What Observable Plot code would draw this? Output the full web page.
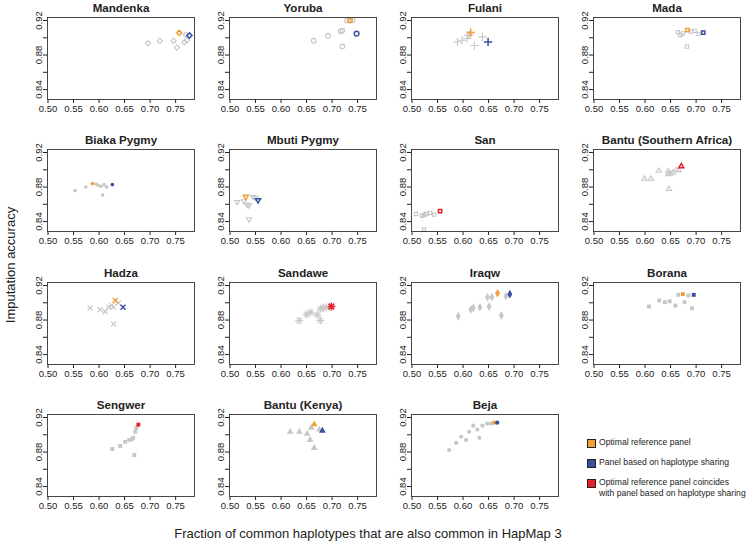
<!DOCTYPE html>
<html><head><meta charset="utf-8">
<script src="https://cdn.jsdelivr.net/npm/d3@7"></script>
<script src="https://cdn.jsdelivr.net/npm/@observablehq/plot@0.6"></script>
<style>
body{margin:0;background:#fff;font-family:"Liberation Sans",Arial,sans-serif;}
#wrap{position:relative;width:750px;height:547px;overflow:hidden;background:#fff;}
.panel{position:absolute;}
.lab{position:absolute;color:#222;white-space:nowrap;}
.sw{position:absolute;width:7px;height:7px;border:1px solid #222;}
</style></head><body><div id="wrap"></div>
<script>
const panels = ["Mandenka","Yoruba","Fulani","Mada","Biaka Pygmy","Mbuti Pygmy","San","Bantu (Southern Africa)","Hadza","Sandawe","Iraqw","Borana","Sengwer","Bantu (Kenya)","Beja"];
const grayX = [
 [0.696,0.719,0.746,0.7525,0.767,0.772,0.770],
 [0.664,0.692,0.717,0.720,0.720,0.729,0.740],
 [0.589,0.598,0.608,0.610,0.613,0.622,0.638],
 [0.6645,0.669,0.674,0.682,0.690,0.697,0.705],
 [0.553,0.574,0.594,0.598,0.6035,0.610,0.607,0.615],
 [0.514,0.527,0.5335,0.537,0.537,0.545,0.550],
 [0.508,0.5195,0.5235,0.528,0.535,0.5435,0.5235],
 [0.599,0.6116,0.627,0.645,0.6455,0.650,0.655,0.661,0.666,0.647],
 [0.5825,0.602,0.612,0.6186,0.6245,0.628,0.6284,0.638],
 [0.6356,0.650,0.658,0.671,0.677,0.678,0.682,0.689],
 [0.5906,0.6154,0.620,0.633,0.651,0.648,0.6565,0.675,0.684],
 [0.6077,0.6277,0.6387,0.6483,0.6593,0.665,0.6774,0.685,0.692],
 [0.626,0.6416,0.651,0.659,0.667,0.671,0.673,0.669,0.664],
 [0.618,0.636,0.651,0.659,0.665,0.675,0.657],
 [0.5727,0.5865,0.5963,0.606,0.612,0.620,0.628,0.632,0.638,0.6475,0.655]
];
const grayY = [
 [0.8936,0.8964,0.8964,0.8886,0.8948,0.897,0.9035],
 [0.8967,0.9025,0.9075,0.9083,0.890,0.920,0.920],
 [0.8952,0.8971,0.8991,0.903,0.9033,0.891,0.901],
 [0.9064,0.9033,0.905,0.8897,0.9072,0.908,0.9045],
 [0.876,0.880,0.8836,0.882,0.8808,0.8828,0.8708,0.880],
 [0.8628,0.8636,0.8596,0.8588,0.8428,0.8688,0.8676],
 [0.8488,0.8468,0.8476,0.8488,0.850,0.848,0.8308],
 [0.8896,0.8896,0.8988,0.898,0.8948,0.8956,0.8968,0.8996,0.8996,0.8776],
 [0.8937,0.8922,0.8899,0.8949,0.8968,0.8949,0.8756,0.900],
 [0.8794,0.8864,0.8891,0.886,0.8794,0.893,0.8941,0.8949],
 [0.8845,0.8922,0.8941,0.8949,0.8957,0.9065,0.9065,0.8852,0.9076],
 [0.8957,0.9026,0.9007,0.9018,0.8968,0.9092,0.9007,0.9084,0.8937],
 [0.8835,0.887,0.8918,0.894,0.8965,0.9035,0.908,0.8765,0.8945],
 [0.9035,0.9035,0.901,0.908,0.8847,0.906,0.894],
 [0.8824,0.8906,0.8977,0.894,0.9035,0.9106,0.906,0.8965,0.9106,0.913,0.913]
];
// optimal reference panel (orange)
const optimalX = [0.757,0.735,0.615,0.683,0.587,0.531,null,null,0.6317,null,0.6676,0.6741,null,0.665,0.661];
const optimalY = [0.9057,0.920,0.906,0.9088,0.884,0.8688,null,null,0.9026,null,0.9111,0.910,null,0.912,0.914];
// panel based on haplotype sharing (blue)
const sharingX = [0.777,0.748,0.649,0.714,0.626,0.555,null,null,0.647,null,0.6917,0.6954,null,0.681,0.667];
const sharingY = [0.9026,0.9048,0.8952,0.906,0.8828,0.8648,null,null,0.8949,null,0.910,0.9092,null,0.9047,0.914];
// coinciding (red)
const coincideX = [null,null,null,null,null,null,0.555,0.671,null,0.6986,null,null,0.677,null,null];
const coincideY = [null,null,null,null,null,null,0.852,0.904,null,0.8957,null,null,0.9118,null,null];
const xTicks = [0.50,0.55,0.60,0.65,0.70,0.75];
const yTicks = [0.84,0.86,0.88,0.90,0.92];
const yTickLabels = [0.84,0.88,0.92];
const legendLabels = ["Optimal reference panel","Panel based on haplotype sharing","Optimal reference panel coincides\nwith panel based on haplotype sharing"];

const shapes = ["diamond2","circle","plus","square2","circle","triangle2","square2","triangle2","times","asterisk8","diamond","square","square","triangle","circle"];
const filled = [false,false,false,false,true,false,false,false,false,false,true,true,true,true,true];
const radius = [2.4,2.3,2.8,2.1,1.8,2.4,2.1,2.4,2.4,2.7,2.6,2.2,2.2,2.5,2.1];
const colors = {gray:"#c6c6c6", opt:"#f0a035", share:"#3b4f9e", red:"#e5202a"};

const boxL = [47,229,411,593], boxT = [17,149,282,414];
const mL = 32, mT = 17, mR = 3, mB = 31, W = 147, H = 82;
const wrap = document.getElementById("wrap");

panels.forEach((name,i)=>{
  const col = i%4, row = Math.floor(i/4);
  const pts = grayX[i].map((x,j)=>({x, y: grayY[i][j], c: colors.gray, w: 1.1}));
  if (optimalX[i]!=null) pts.push({x: optimalX[i], y: optimalY[i], c: colors.opt, w: 1.5});
  if (sharingX[i]!=null) pts.push({x: sharingX[i], y: sharingY[i], c: colors.share, w: 1.5});
  if (coincideX[i]!=null) pts.push({x: coincideX[i], y: coincideY[i], c: colors.red, w: 1.5});
  const f = filled[i];
  const rot = name==="Mbuti Pygmy" ? 180 : 0;
  const dotOpts = sym => ({x:"x", y:"y", symbol: sym, r: radius[i], rotate: rot,
     fill: f ? d=>d.c : "none", stroke: f ? "none" : d=>d.c, strokeWidth: f ? 0 : d=>d.w});
  const marks = [];
  if (shapes[i]==="asterisk8") {
    marks.push(Plot.dot(pts, dotOpts("plus")), Plot.dot(pts, dotOpts("times")));
  } else {
    marks.push(Plot.dot(pts, dotOpts(shapes[i])));
  }
  const svg = Plot.plot({
    width: mL+W+mR, height: mT+H+mB,
    marginLeft: mL, marginTop: mT, marginRight: mR, marginBottom: mB,
    style: {fontFamily: '"Liberation Sans", Arial, sans-serif', fontSize: "9.5px", background: "transparent", color: "#222"},
    x: {domain: [0.499, 0.787]},
    y: {domain: [0.8285, 0.9235]},
    color: {type: "identity"},
    marks: [
      Plot.axisX({ticks: xTicks, tickFormat: d=>d.toFixed(2), tickSize: 4, tickPadding: 2, label: null}),
      Plot.axisY({ticks: yTicks, tickFormat: d=>yTickLabels.some(v=>Math.abs(v-d)<1e-9) ? d.toFixed(2) : "", tickSize: 4, tickPadding: 2, tickRotate: -90, label: null}),
      ...marks,
      Plot.frame({stroke: "#333", strokeWidth: 0.9}),
      Plot.text([name], {text: d=>d, frameAnchor: "top", lineAnchor: "middle", dy: -9, fontWeight: "bold", fontSize: 11.6, fill: "#222"})
    ]
  });
  svg.classList.add("panel");
  svg.style.left = (boxL[col]-mL)+"px";
  svg.style.top = (boxT[row]-mT)+"px";
  wrap.appendChild(svg);
});

// axis titles
const yl = document.createElement("div");
yl.className = "lab"; yl.textContent = "Imputation accuracy";
yl.style.cssText += "font-size:13px;left:10px;top:265px;transform:translate(-50%,-50%) rotate(-90deg);";
wrap.appendChild(yl);
const xl = document.createElement("div");
xl.className = "lab"; xl.textContent = "Fraction of common haplotypes that are also common in HapMap 3";
xl.style.cssText += "font-size:13px;left:368px;top:533px;transform:translate(-50%,-50%);";
wrap.appendChild(xl);

// legend
const legColors = [colors.opt, colors.share, colors.red];
const legY = [443, 463, 483];
legendLabels.forEach((t,k)=>{
  const s = document.createElement("div");
  s.className = "sw"; s.style.background = legColors[k];
  s.style.left = "587px"; s.style.top = (legY[k]-4)+"px";
  wrap.appendChild(s);
  t.split("\n").forEach((line,m)=>{
    const d = document.createElement("div");
    d.className = "lab"; d.textContent = line;
    d.style.cssText += `font-size:8.6px;left:599px;top:${legY[k]-6+m*11}px;line-height:11px;`;
    wrap.appendChild(d);
  });
});
</script>
</body></html>
